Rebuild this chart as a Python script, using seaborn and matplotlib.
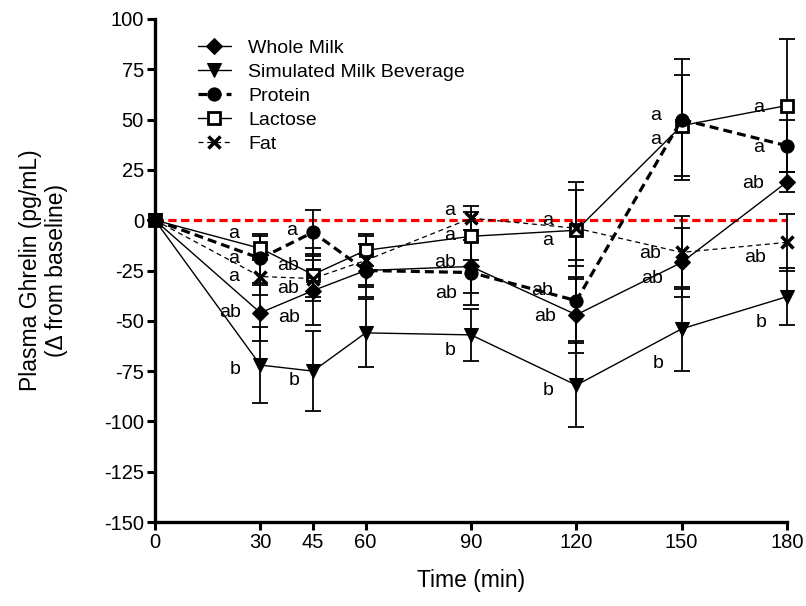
import numpy as np
import pandas as pd
import matplotlib
matplotlib.use("Agg")
import matplotlib.pyplot as plt
import seaborn as sns

# Sampling times (min)
times = [0, 30, 45, 60, 90, 120, 150, 180]

# Mean change in plasma ghrelin from baseline (pg/mL)
whole_milk = [0, -46, -35, -25, -23, -47, -21, 19]
simulated_milk = [0, -72, -75, -56, -57, -82, -54, -38]
protein = [0, -19, -6, -25, -26, -40, 50, 37]
lactose = [0, -14, -27, -15, -8, -5, 47, 57]
fat = [0, -28, -29, -20, 1, -4, -16, -11]

# Standard errors
whole_milk_sem = [0, 14, 17, 13, 13, 19, 17, 5]
simulated_milk_sem = [0, 19, 20, 17, 13, 21, 21, 14]
protein_sem = [0, 12, 11, 8, 16, 20, 30, 13]
lactose_sem = [0, 6, 13, 8, 12, 24, 25, 33]
fat_sem = [0, 9, 9, 12, 6, 19, 18, 14]

series_names = ["Whole Milk", "Simulated Milk Beverage", "Protein", "Lactose", "Fat"]

# Significance letters: (time, value, text)
letter_time = [22.5, 22.5, 22.5, 21.5, 22.8,
               38.8, 38.0, 38.0, 38.3, 39.5,
               84.0, 84.0, 82.6, 83.0, 84.0,
               111.7, 111.7, 110.3, 111.0, 112.0,
               142.5, 142.5, 141.0, 141.6, 143.2,
               171.8, 171.8, 170.4, 171.0, 172.6]
letter_value = [-6.5, -19, -28, -46, -74,
                -5, -22.4, -33.8, -48.2, -79.5,
                5, -7.5, -20.9, -36.3, -64.6,
                0, -10, -35, -48, -84.5,
                52, 40, -16.4, -29, -71,
                56, 36, 18.4, -18.4, -51]
letter_text = ["a", "a", "a", "ab", "b",
               "a", "ab", "ab", "ab", "b",
               "a", "a", "ab", "ab", "b",
               "a", "a", "ab", "ab", "b",
               "a", "a", "ab", "ab", "b",
               "a", "a", "ab", "ab", "b"]

sns.set_style("ticks")
plt.rcParams["font.family"] = ["Liberation Sans", "DejaVu Sans"]
plt.rcParams["axes.unicode_minus"] = False
plt.rcParams["text.color"] = "black"
plt.rcParams["axes.labelcolor"] = "black"

df = pd.DataFrame({
    "time": times * 5,
    "value": whole_milk + simulated_milk + protein + lactose + fat,
    "sem": whole_milk_sem + simulated_milk_sem + protein_sem + lactose_sem + fat_sem,
    "group": sum([[n] * len(times) for n in series_names], []),
})

fig = plt.figure(figsize=(8.06, 6.06), dpi=100)
ax = fig.add_axes([155 / 806, 1 - 522 / 606, 632 / 806, 503 / 606])

# zero reference line
ax.axhline(0, color="#ff0000", lw=2.3, dashes=(2.6, 1.4), zorder=1)

styles = {
    "Whole Milk": dict(marker="D", markersize=8, markerfacecolor="black", lw=1.0, zorder=3),
    "Simulated Milk Beverage": dict(marker="v", markersize=10, markerfacecolor="black", lw=1.0, zorder=3),
    "Protein": dict(marker="o", markersize=9.5, markerfacecolor="black", lw=2.3,
                    dashes=(2.8, 1.6), zorder=3),
    "Lactose": dict(marker="s", markersize=9, markerfacecolor="white", markeredgewidth=2.0,
                    lw=1.0, zorder=2.8),
    "Fat": dict(marker="x", markersize=8, markeredgewidth=2.5, lw=0.9, dashes=(4, 3), zorder=3),
}

for name in series_names:
    sub = df[df["group"] == name]
    ax.errorbar(sub["time"], sub["value"], yerr=sub["sem"], fmt="none",
                ecolor="black", elinewidth=1.3, capsize=5.5, capthick=1.3,
                zorder=2, clip_on=False)

for name in series_names:
    sub = df[df["group"] == name]
    st = styles[name]
    sns.lineplot(data=sub, x="time", y="value", ax=ax, color="black",
                 markeredgecolor="black", label=name,
                 clip_on=False, errorbar=None, **st)

for t, v, s in zip(letter_time, letter_value, letter_text):
    ax.text(t, v, s, ha="center", va="center", fontsize=14, color="black", zorder=4)

ax.set_xlim(0, 180)
ax.set_ylim(-150, 100)
ax.set_xticks(times)
ax.set_yticks(np.arange(-150, 101, 25))
ax.tick_params(axis="both", direction="out", length=6, width=2.2,
               labelsize=14.5, colors="black", pad=2)
for side in ("left", "bottom"):
    ax.spines[side].set_linewidth(2.4)
    ax.spines[side].set_color("black")
sns.despine(ax=ax)

ax.set_xlabel("Time (min)", fontsize=16.5, labelpad=12)
ax.set_ylabel("Plasma Ghrelin (pg/mL)\n(\u0394 from baseline)", fontsize=16.5,
              labelpad=26, linespacing=1.15)

leg = ax.legend(loc="upper left", bbox_to_anchor=(0.055, 0.975), frameon=False,
                fontsize=14, handlelength=1.7, handletextpad=0.9,
                labelspacing=0.33, borderaxespad=0.0)

fig.savefig("out.png", dpi=100)
